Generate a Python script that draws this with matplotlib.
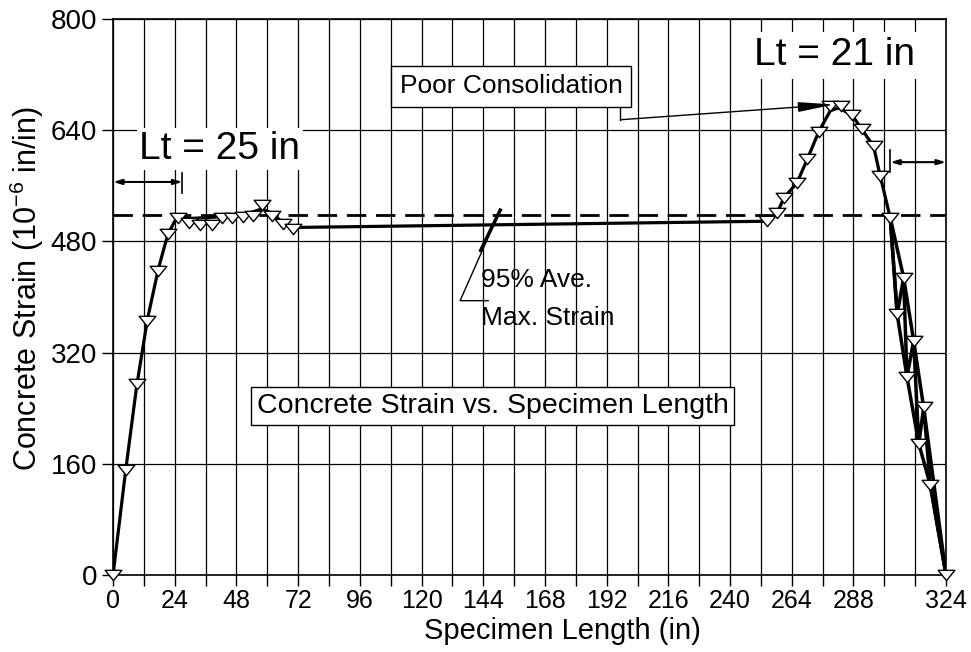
import matplotlib
matplotlib.use('Agg')
import matplotlib.pyplot as plt
from matplotlib.path import Path

plt.rcParams['font.family'] = 'Liberation Sans'
plt.rcParams['mathtext.fontset'] = 'custom'
plt.rcParams['mathtext.rm'] = 'Liberation Sans'

# measured gauge readings (open triangles)
gauge_x = [0, 4.9, 9.2, 13.4, 17.6, 21.3, 25.2, 29.7, 33.9, 38.4, 42.3, 46.2, 50.5, 54.6,
           57.9, 61.8, 66.0, 69.9,
           254.4, 258.3, 261.0, 266.0, 270.0, 274.5, 279.0, 283.0, 287.4, 291.3, 295.8,
           298.4, 302.3, 305.0, 307.5, 308.8, 311.4, 313.4, 315.3, 317.9, 324.0]
gauge_y = [0, 151, 275, 366, 437, 490, 514, 507, 504, 504, 514, 514, 515, 516,
           532, 516, 505, 498,
           509, 521, 543, 564, 598, 638, 675, 675, 662, 641, 617,
           574, 514, 375, 428, 285, 337, 189, 241, 129, 0]

# strain profile curve (solid line) up to the start of the release end
curve_x = [0, 4.9, 9.2, 13.4, 17.6, 21.3, 25.0, 30.0, 40.0, 53.3, 58.0, 62.0, 66.0, 70.0,
           254.4, 258.3, 261.0, 266.0, 270.0, 274.5, 279.0, 282.2, 287.4, 291.3, 295.8,
           298.4, 302.3]
curve_y = [0, 150, 272, 368, 440, 490, 516, 513, 515, 521, 527, 520, 507, 500,
           509, 521, 543, 564, 598, 638, 668, 672, 662, 641, 617,
           574, 514]
# traces at the right end (they overlap into a dark band)
fall_a_x = [302.3, 305.0, 308.8, 313.4, 317.9, 324.0]
fall_a_y = [514, 375, 285, 189, 129, 0]
fall_b_x = [302.3, 307.5, 311.4, 315.3, 324.0]
fall_b_y = [514, 428, 337, 241, 0]
fall_c_x = [302.3, 305.0, 307.5, 308.8, 311.4, 313.4, 315.3, 317.9, 324.0]
fall_c_y = [514, 375, 428, 285, 337, 189, 241, 129, 0]

# 95% of average maximum strain
ams_95 = 518

x_labels = [0, 24, 48, 72, 96, 120, 144, 168, 192, 216, 240, 264, 288, 324]
y_ticks = [0, 160, 320, 480, 640, 800]

fig = plt.figure(figsize=(9.71, 6.52), dpi=100)
ax = fig.add_axes([0.1164, 0.1181, 0.8579, 0.8528])

ax.set_xlim(0, 324)
ax.set_ylim(0, 800)
ax.set_xticks(x_labels)
ax.set_xticks(list(range(0, 325, 12)), minor=True)
ax.set_yticks(y_ticks)
ax.grid(which='both', axis='x', color='k', lw=0.9)
ax.grid(which='major', axis='y', color='k', lw=0.9)
ax.set_axisbelow(True)
ax.tick_params(which='both', direction='out', length=8, width=1, color='k')
ax.tick_params(axis='x', pad=2, labelsize=18)
ax.tick_params(axis='y', labelsize=20)
for s in ax.spines.values():
    s.set_linewidth(1.2)

ax.axhline(ams_95, color='k', ls=(0, (7, 3.5)), lw=2, zorder=3)
ax.plot(curve_x, curve_y, color='k', lw=2.3, zorder=4, solid_joinstyle='round')
for fx, fy in [(fall_a_x, fall_a_y), (fall_b_x, fall_b_y), (fall_c_x, fall_c_y)]:
    ax.plot(fx, fy, color='k', lw=2.5, zorder=4, solid_joinstyle='round')

tri = Path([(-1, 0.62), (1, 0.62), (0, -0.62), (-1, 0.62)],
           [Path.MOVETO, Path.LINETO, Path.LINETO, Path.CLOSEPOLY])
ax.plot(gauge_x, gauge_y, ls='none', marker=tri, ms=12, mfc='white', mec='k', mew=1,
        zorder=5, clip_on=False)

ax.set_xlabel('Specimen Length (in)', fontsize=21)
ax.xaxis.set_label_coords(0.54, -0.075)
ax.set_ylabel('Concrete Strain (10$^{-6}$ in/in)', fontsize=22)
ax.yaxis.set_label_coords(-0.08, 0.515)

# transfer length labels
ax.text(41.6, 613, 'Lt = 25 in', fontsize=28, ha='center', va='center',
        bbox=dict(fc='white', ec='none', pad=2), zorder=6)
ax.text(280.5, 748, 'Lt = 21 in', fontsize=28, ha='center', va='center',
        bbox=dict(fc='white', ec='none', pad=4), zorder=6)
ax.annotate('', xy=(0, 565.5), xytext=(27, 565.5),
            arrowprops=dict(arrowstyle='<|-|>,head_length=0.5,head_width=0.15',
                            color='k', lw=1.5, shrinkA=0, shrinkB=0), zorder=6)
ax.plot([27, 27], [550, 578], color='k', lw=1.2, zorder=6)
ax.annotate('', xy=(302.3, 594), xytext=(324, 594),
            arrowprops=dict(arrowstyle='<|-|>,head_length=0.5,head_width=0.15',
                            color='k', lw=1.5, shrinkA=0, shrinkB=0), zorder=6)
ax.plot([302.3, 302.3], [580, 612], color='k', lw=1.2, zorder=6)

# boxed notes
ax.text(154.9, 703, 'Poor Consolidation', fontsize=19, ha='center', va='center',
        bbox=dict(fc='white', ec='k', lw=1, pad=6), zorder=6)
ax.plot([197.3, 197.3], [673, 655], color='k', lw=1, zorder=6)
ax.annotate('', xy=(280.5, 677), xytext=(197.3, 655),
            arrowprops=dict(arrowstyle='-|>,head_length=2.2,head_width=0.3',
                            color='k', lw=1, shrinkA=0, shrinkB=0), zorder=6)

ax.text(147.7, 243, 'Concrete Strain vs. Specimen Length', fontsize=20.5, ha='center',
        va='center', bbox=dict(fc='white', ec='k', lw=1, pad=4), zorder=6)

ax.text(143.2, 397, '95% Ave.\nMax. Strain', fontsize=19, ha='left', va='center',
        linespacing=1.7, zorder=6)
ax.plot([145.9, 135, 150.6], [394.7, 394.7, 525], color='k', lw=1, zorder=6)
ax.plot([143.0, 150.6], [467, 525], color='k', lw=2.5, zorder=6)

fig.savefig('out.png', dpi=100)
